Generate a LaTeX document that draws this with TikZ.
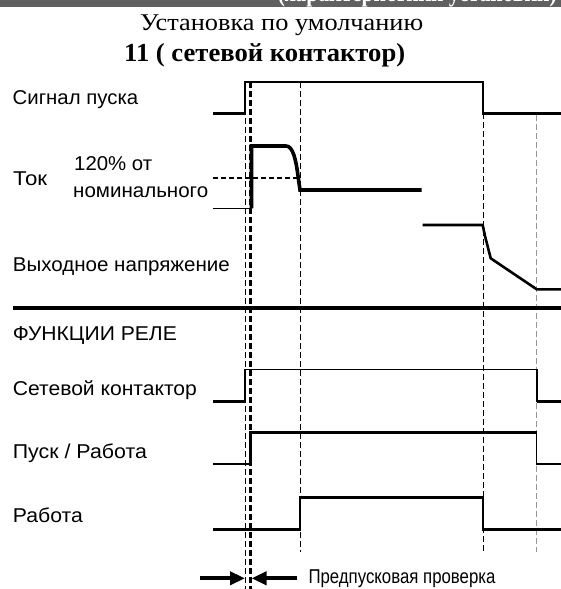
\documentclass[tikz,border=0pt]{standalone}
\usepackage{fontspec}
\setmainfont{Liberation Serif}
\newfontfamily\labfont{Liberation Sans}
\usetikzlibrary{arrows.meta}
\definecolor{bandgray}{RGB}{96,96,96}
\definecolor{dgray}{RGB}{150,150,150}
\newcommand{\fitw}[2]{\resizebox{#1pt}{\height}{#2}}
\begin{document}
\begin{tikzpicture}[x=1pt,y=-1pt,
  lbl/.style={anchor=base west,inner sep=0pt,font=\labfont\fontsize{20}{20}\selectfont},
  ttl/.style={anchor=base west,inner sep=0pt,font=\fontsize{24}{24}\selectfont},
  wave/.style={line width=2.6pt,line join=miter,line cap=butt},
  wavethin/.style={line width=1.3pt,line join=miter},
  curr/.style={line width=3.6pt,line join=miter},
  vdash/.style={line width=1pt,dash pattern=on 6pt off 3pt},
  vdashthick/.style={line width=2.2pt,dash pattern=on 6pt off 3pt},
  arr/.style={line width=4.2pt,-{Triangle[length=15pt,width=13pt]}}]
\useasboundingbox (0,0) rectangle (561,589);
% top band
\fill[bandgray] (0,0) rectangle (561,7.3);
\begin{scope}
\clip (0,0) rectangle (561,7.3);
\node[ttl,anchor=base east,text=white,font=\bfseries\fontsize{26}{26}\selectfont] (band) at (557,1.5) {\fitw{279}{(характеристики установки)}};
\end{scope}
% titles
\node[ttl] (t1) at (140,30.5) {\fitw{283}{Установка по умолчанию}};
\node[ttl,font=\bfseries\fontsize{26}{26}\selectfont] (t2) at (124,61.5) {\fitw{281}{11 ( сетевой контактор)}};
% labels
\node[lbl] (l1) at (12.5,104.3) {\fitw{125.5}{Сигнал пуска}};
\node[lbl] (l2) at (13,185) {\fitw{34}{Ток}};
\node[lbl] (l3) at (74,170.7) {\fitw{78}{120\% от}};
\node[lbl] (l4) at (73,197) {\fitw{135}{номинального}};
\node[lbl] (l5) at (12.7,271.7) {\fitw{217}{Выходное напряжение}};
\node[lbl] (l6) at (12.7,340) {\fitw{164}{ФУНКЦИИ РЕЛЕ}};
\node[lbl] (l7) at (12.7,395) {\fitw{184}{Сетевой контактор}};
\node[lbl] (l8) at (12.7,458.3) {\fitw{134}{Пуск / Работа}};
\node[lbl] (l9) at (12.7,522.7) {\fitw{70}{Работа}};
\node[lbl] (l10) at (308.3,583) {\fitw{187}{Предпусковая проверка}};
% vertical dashed lines
\draw[vdash] (245,82) -- (245,589);
\draw[vdashthick] (250.5,82) -- (250.5,589);
\draw[vdash] (300,82) -- (300,552);
\draw[vdash] (483,113) -- (483,552);
\draw[vdash,dgray] (536.7,115) -- (536.7,552);
% start signal
\draw[wave] (213,113.3) -- (245,113.3) -- (245,82) -- (483,82) -- (483,113.3) -- (561,113.3);
% current
\draw[wavethin] (213,208.3) -- (251.5,208.3);
\draw[curr] (251.5,208.3) -- (251.5,146) -- (286,146) .. controls (293,146) and (296,160) .. (298,176) -- (300,190) -- (421.5,190);
\draw[line width=2pt,dash pattern=on 5pt off 3pt] (213,177.7) -- (297,177.7);
% output voltage
\draw[wave] (422.7,225) -- (482.7,225) -- (485,236) -- (490.7,258.3) -- (536.7,289.3) -- (561,289.3);
% separator
\draw[line width=4pt] (12.7,308) -- (561,308);
% mains contactor
\draw[wave] (213,401.7) -- (245,401.7);
\draw[line width=1.6pt,line join=miter] (245,401.7) -- (245,369.3) -- (536.7,369.3) -- (536.7,401.7);
\draw[wave] (536.7,401.7) -- (561,401.7);
% start/run
\draw[wavethin] (213,464) -- (250.7,464);
\draw[wave] (250.7,464) -- (250.7,432.7) -- (536.7,432.7);
\draw[wavethin] (536.7,432.7) -- (536.7,464) -- (561,464);
% run
\draw[wave] (213,529.3) -- (300,529.3) -- (300,497.5) -- (483,497.5) -- (483,529.3) -- (561,529.3);
% pre-start check arrows
\coordinate (a1s) at (200,578.3);
\coordinate (a1e) at (245,578.3);
\coordinate (a2s) at (297,578.3);
\coordinate (a2e) at (251.5,578.3);
\draw[arr] (a1s) -- (a1e);
\draw[arr] (a2s) -- (a2e);
\end{tikzpicture}
\end{document}
